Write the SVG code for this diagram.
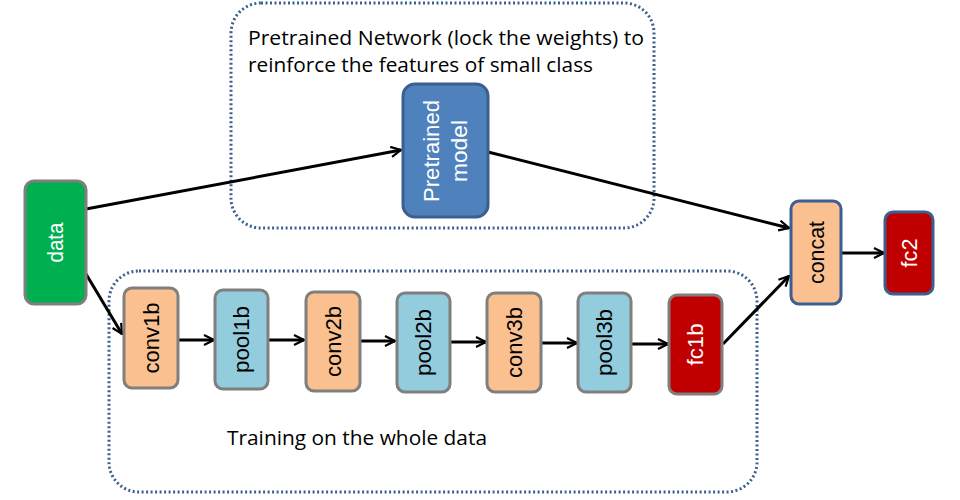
<svg xmlns="http://www.w3.org/2000/svg" width="960" height="500" viewBox="0 0 960 500">
<defs>
<marker id="ah" viewBox="0 0 12 12" refX="11" refY="6" markerWidth="12" markerHeight="12" markerUnits="userSpaceOnUse" orient="auto">
<path d="M1,1 L11,6 L1,11" fill="none" stroke="#000" stroke-width="2.2"/>
</marker>
</defs>
<style>
.grp{fill:none;stroke:#3B5F8F;stroke-width:3;stroke-dasharray:2 2.5}
.n{stroke:#7F7F7F;stroke-width:3}
.nb{stroke:#3B5F8F;stroke-width:3}
.or{fill:#FAC090}
.bl{fill:#93CDDD}
.rd{fill:#C00000}
.gr{fill:#00B050}
.pm{fill:#4F81BD}
.t{font-family:"Liberation Sans","Open Sans",sans-serif;font-size:22px;text-anchor:middle;dominant-baseline:central}
.w{fill:#fff}
.k{fill:#000}
.lbl{font-family:"Open Sans","Liberation Sans",sans-serif;font-size:20px;fill:#000}
.c{fill:none;stroke:#000;stroke-width:3}
</style>
<g id="group-pretrained">
<rect class="grp" x="231" y="3" width="423" height="225" rx="30"/>
<text class="lbl" x="248" y="45" textLength="396" lengthAdjust="spacingAndGlyphs">Pretrained Network (lock the weights) to</text>
<text class="lbl" x="248" y="72" textLength="345" lengthAdjust="spacingAndGlyphs">reinforce the features of small class</text>
</g>
<g id="group-training">
<rect class="grp" x="109" y="271" width="648" height="221" rx="30"/>
<text class="lbl" x="227" y="445" textLength="260" lengthAdjust="spacingAndGlyphs">Training on the whole data</text>
</g>
<g id="connectors">
<line class="c" x1="86" y1="209" x2="401" y2="150" marker-end="url(#ah)"/>
<line class="c" x1="488" y1="152" x2="789" y2="228" marker-end="url(#ah)"/>
<line class="c" x1="86" y1="274" x2="122" y2="334" marker-end="url(#ah)"/>
<line class="c" x1="178" y1="340" x2="214" y2="340" marker-end="url(#ah)"/>
<line class="c" x1="268" y1="340" x2="304" y2="340" marker-end="url(#ah)"/>
<line class="c" x1="360" y1="341" x2="395" y2="341" marker-end="url(#ah)"/>
<line class="c" x1="450" y1="342" x2="486" y2="342" marker-end="url(#ah)"/>
<line class="c" x1="542" y1="343" x2="577" y2="343" marker-end="url(#ah)"/>
<line class="c" x1="632" y1="344" x2="668" y2="344" marker-end="url(#ah)"/>
<line class="c" x1="723" y1="344" x2="789" y2="276" marker-end="url(#ah)"/>
<line class="c" x1="841" y1="253" x2="884" y2="253" marker-end="url(#ah)"/>
</g>
<g id="data">
<rect class="n gr" x="25" y="181" width="61" height="123" rx="9"/>
<text class="t w" transform="translate(55.5,242.5) rotate(-90)" textLength="40" lengthAdjust="spacingAndGlyphs">data</text>
</g>
<g id="pretrained-model">
<rect class="nb pm" x="403" y="84" width="85" height="133" rx="12"/>
<text class="t w" transform="translate(431,151) rotate(-90)" textLength="102" lengthAdjust="spacingAndGlyphs">Pretrained</text>
<text class="t w" transform="translate(459,151) rotate(-90)" textLength="62" lengthAdjust="spacingAndGlyphs">model</text>
</g>
<g id="conv1b">
<rect class="n or" x="124" y="288" width="54" height="100" rx="8"/>
<text class="t k" transform="translate(151,338) rotate(-90)" textLength="71" lengthAdjust="spacingAndGlyphs">conv1b</text>
</g>
<g id="pool1b">
<rect class="n bl" x="215" y="290" width="53" height="99" rx="8"/>
<text class="t k" transform="translate(241.5,339.5) rotate(-90)" textLength="67" lengthAdjust="spacingAndGlyphs">pool1b</text>
</g>
<g id="conv2b">
<rect class="n or" x="306" y="292" width="54" height="99" rx="8"/>
<text class="t k" transform="translate(333,341.5) rotate(-90)" textLength="71" lengthAdjust="spacingAndGlyphs">conv2b</text>
</g>
<g id="pool2b">
<rect class="n bl" x="397" y="293" width="53" height="99" rx="8"/>
<text class="t k" transform="translate(423.5,342.5) rotate(-90)" textLength="67" lengthAdjust="spacingAndGlyphs">pool2b</text>
</g>
<g id="conv3b">
<rect class="n or" x="487" y="293" width="54" height="99" rx="8"/>
<text class="t k" transform="translate(514,342.5) rotate(-90)" textLength="71" lengthAdjust="spacingAndGlyphs">conv3b</text>
</g>
<g id="pool3b">
<rect class="n bl" x="578" y="293" width="53" height="99" rx="8"/>
<text class="t k" transform="translate(604.5,342.5) rotate(-90)" textLength="67" lengthAdjust="spacingAndGlyphs">pool3b</text>
</g>
<g id="fc1b">
<rect class="n rd" x="669" y="295" width="53" height="99" rx="8"/>
<text class="t w" transform="translate(695.5,344.5) rotate(-90)" textLength="42" lengthAdjust="spacingAndGlyphs">fc1b</text>
</g>
<g id="concat">
<rect class="nb or" x="791" y="201" width="50" height="103" rx="8"/>
<text class="t k" transform="translate(816,252.5) rotate(-90)" textLength="63" lengthAdjust="spacingAndGlyphs">concat</text>
</g>
<g id="fc2">
<rect class="nb rd" x="885" y="212" width="48" height="82" rx="8"/>
<text class="t w" transform="translate(909,253) rotate(-90)" textLength="29" lengthAdjust="spacingAndGlyphs">fc2</text>
</g>
</svg>
